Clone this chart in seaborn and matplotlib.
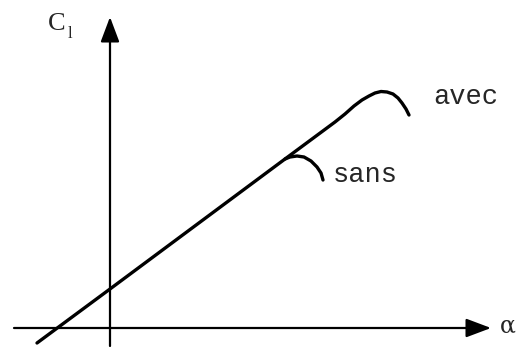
import matplotlib
matplotlib.use("Agg")
import matplotlib.pyplot as plt
import seaborn as sns
import pandas as pd

# Schematic C_l(alpha) curves, arbitrary units (origin at axes intersection)
avec_alpha = [-73, 0, 175, 225, 235, 244, 252, 259, 265, 271, 277, 283, 288, 292, 296, 299]
avec_cl    = [-15, 39, 169, 206, 214, 222, 228, 232, 235, 236.5, 236, 234, 230, 225, 219, 213]
sans_alpha = [175, 180, 187, 194, 201, 207, 211, 213]
sans_cl    = [169, 171, 172, 171, 167, 161, 155, 148]
curve_labels = ["avec", "sans"]
axis_labels = ["α", "C", "l"]

sns.set_theme(style="white")
fig = plt.figure(figsize=(5.27, 3.47), dpi=100)
ax = fig.add_axes([0, 0, 1, 1])
ax.set_xlim(-110, 417)
ax.set_ylim(-19, 328)
ax.set_axis_off()

df_avec = pd.DataFrame({"alpha": avec_alpha, "cl": avec_cl})
df_sans = pd.DataFrame({"alpha": sans_alpha, "cl": sans_cl})
sns.lineplot(data=df_avec, x="alpha", y="cl", sort=False, color="black", lw=2.4, ax=ax)
sns.lineplot(data=df_sans, x="alpha", y="cl", sort=False, color="black", lw=2.4, ax=ax)
for l in ax.lines:
    l.set_solid_joinstyle("round")
    l.set_solid_capstyle("round")

# axes with arrows
arrow = dict(arrowstyle="-|>,head_length=0.85,head_width=0.32", color="black",
             lw=1.6, shrinkA=0, shrinkB=0, mutation_scale=18)
ax.annotate("", xy=(381, 0), xytext=(-96, 0), arrowprops=arrow)
ax.annotate("", xy=(0, 311), xytext=(0, -18), arrowprops=arrow)

ax.text(-53, 304, axis_labels[1], fontsize=19, family="Liberation Serif", ha="center", va="center")
ax.text(-40, 294, axis_labels[2], fontsize=12, family="Liberation Serif", ha="center", va="center")
ax.text(398, 2, axis_labels[0], fontsize=17, family="DejaVu Serif", ha="center", va="center")
ax.text(323, 231, curve_labels[0], fontsize=19.5, family="Liberation Mono", ha="left", va="center")
ax.text(223, 153, curve_labels[1], fontsize=19.5, family="Liberation Mono", ha="left", va="center")

fig.savefig("out.png", dpi=100, facecolor="white")
